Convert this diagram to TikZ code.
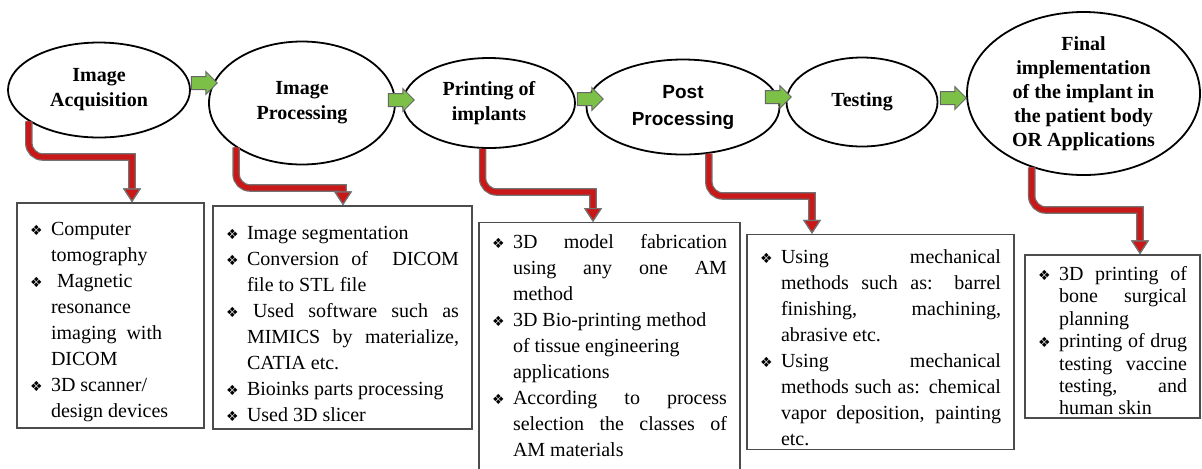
\documentclass[tikz,border=0pt]{standalone}
\usepackage{fontspec}
\setmainfont{Liberation Serif}
\newfontfamily\postfont{Liberation Sans}
\newfontfamily\symfont{DejaVu Sans}
\usepackage{tikz}
\usetikzlibrary{shapes.geometric, shapes.arrows, arrows.meta}
\definecolor{arrowred}{RGB}{200,24,24}
\definecolor{arrowgreen}{RGB}{124,192,72}
\newcommand{\bitem}{\par\hangindent=10.5pt\hangafter=1\noindent\hbox to 10.5pt{\symfont\fontsize{7}{7}\selectfont ❖\hfil}}
\newcommand{\bend}{\par}
\tikzset{
    stepnode/.style={
        ellipse,
        draw, % 黑色边框
        line width=0.9pt,
        fill=white,
        inner sep=0,
        align=center,
        font=\bfseries\fontsize{10}{12.5}\selectfont
    },
    listbox/.style={
        rectangle,
        draw=black!70,
        line width=0.7pt,
        inner xsep=6.5pt,
        inner ysep=0pt,
        align=justify,
        font=\fontsize{10}{13}\selectfont
    },
    greenarrow/.style={
        single arrow,
        draw=black!60,
        fill=arrowgreen, % 绿色箭头
        line width=0.5pt,
        inner xsep=0pt,
        inner ysep=3pt,
        minimum height=13pt,
        single arrow head extend=2.5pt
    },
    redline/.style={
        draw=arrowred,
        line width=2.6pt,
        -{Triangle[length=7pt,width=9pt,color=black!55,fill=arrowred,line width=0.6pt]},
        preaction={draw=black!55, line width=3.8pt} % 灰色描边
    }
}
\begin{document}
\begin{tikzpicture}[x=0.5pt, y=-0.5pt]
\useasboundingbox (0,0) rectangle (1202,468);
% 流程椭圆
\node[stepnode, minimum width=91pt, minimum height=47.5pt] (acq) at (99,90) {Image\\Acquisition};
\node[stepnode, minimum width=93pt, minimum height=61.5pt] (proc) at (302,103) {Image\\Processing};
\node[stepnode, minimum width=86pt, minimum height=45pt] (print) at (489,103) {Printing of\\implants};
\node[stepnode, minimum width=96.5pt, minimum height=47.5pt,
      font=\postfont\bfseries\fontsize{9.5}{13.5}\selectfont] (post) at (683,107) {Post\\Processing};
\node[stepnode, minimum width=75.5pt, minimum height=44.5pt] (test) at (862,102) {Testing};
\node[stepnode, minimum width=116.5pt, minimum height=81.5pt] (final) at (1083.5,93.5) {};
\node[align=center, inner sep=0, font=\bfseries\fontsize{10}{12}\selectfont] (finaltext) at (final)
    {Final\\implementation\\of the implant in\\the patient body\\OR Applications};

% 绿色箭头
\node[greenarrow] (g1) at (201,83) {};
\node[greenarrow] (g2) at (398,100) {};
\node[greenarrow] (g3) at (587,99) {};
\node[greenarrow] (g4) at (775,97) {};
\node[greenarrow] (g5) at (950,98) {};

% 说明框
\node[listbox, text width=80.5pt, minimum height=112.5pt] (b1) at (110.5,315.5) {%
    \bitem Computer\linebreak tomography
    \bitem \hspace{3pt}Magnetic\linebreak resonance\linebreak imaging\ \ with\newline DICOM
    \bitem 3D scanner/\newline design devices\bend};
\node[listbox, text width=116.5pt, minimum height=111.5pt] (b2) at (342.5,317.5) {%
    \bitem Image segmentation
    \bitem Conversion of \ DICOM\linebreak file to STL file
    \bitem \hspace{3pt}Used software such as\linebreak MIMICS by materialize,\linebreak CATIA etc.
    \bitem Bioinks parts processing
    \bitem Used 3D slicer\bend};
\node[listbox, text width=117.5pt, anchor=north] (b3) at (609.5,222) {%
    \bitem 3D model fabrication\linebreak using any one AM\linebreak method
    \bitem 3D Bio-printing method\newline of tissue engineering\newline applications
    \bitem According to process\linebreak selection the classes of\linebreak AM materials\bend
    \vspace{12pt}\hbox{}};
\node[listbox, text width=120.5pt, minimum height=107.5pt] (b4) at (880.5,342) {%
    \bitem Using mechanical\linebreak methods such as: barrel\linebreak finishing, machining,\linebreak abrasive etc.
    \bitem Using mechanical\linebreak methods such as: chemical\linebreak vapor deposition, painting\linebreak etc.\bend};
\node[listbox, text width=74.5pt, minimum height=81.5pt,
      font=\fontsize{10}{11.2}\selectfont] (b5) at (1112.5,336.5) {%
    \bitem 3D printing of\linebreak bone surgical\linebreak planning
    \bitem printing of drug\linebreak testing vaccine\linebreak testing, and\linebreak human skin\bend};

% 红色折线箭头
\coordinate (k1) at (132,157);
\coordinate (k2) at (343,188);
\coordinate (k3) at (593,192);
\coordinate (k4) at (812,196);
\coordinate (k5) at (1140,210);
\draw[redline] (acq.204) [rounded corners=7pt] -- (acq.204 |- k1) [sharp corners] -- (k1) -- (k1 |- b1.north);
\draw[redline] (proc.214) [rounded corners=7pt] -- (proc.214 |- k2) [sharp corners] -- (k2) -- (k2 |- b2.north);
\draw[redline] (print.262) [rounded corners=7pt] -- (print.262 |- k3) [sharp corners] -- (k3) -- (k3 |- b3.north);
\draw[redline] (post.299) [rounded corners=7pt] -- (post.299 |- k4) [sharp corners] -- (k4) -- (k4 |- b4.north);
\draw[redline] (final.235) [rounded corners=7pt] -- (final.235 |- k5) [sharp corners] -- (k5) -- (k5 |- b5.north);
\end{tikzpicture}
\end{document}
